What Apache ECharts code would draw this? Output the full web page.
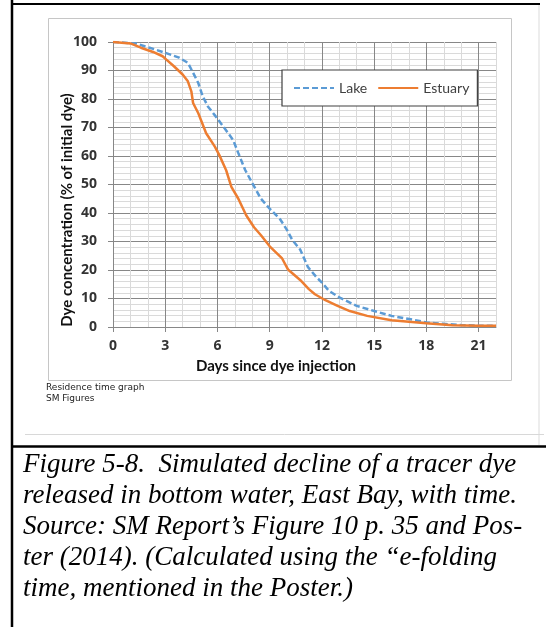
<!DOCTYPE html>
<html>
<head>
<meta charset="utf-8">
<title>Residence time graph</title>
<script src="https://cdn.jsdelivr.net/npm/echarts@6/dist/echarts.min.js"></script>
<style>
  html, body { margin: 0; padding: 0; background: #fff; }
  #chart { width: 546px; height: 627px; }
</style>
</head>
<body>
<div id="chart"></div>
<script>
// x: days since dye injection, y: % of initial dye
const xTicks = [0, 3, 6, 9, 12, 15, 18, 21]
const yTicks = [0, 10, 20, 30, 40, 50, 60, 70, 80, 90, 100]

const lakeDays = [0, 1.3, 2.1, 3.0, 3.8, 4.3, 4.6, 4.9, 5.15, 5.45, 5.9, 6.4, 6.9, 7.2, 7.6, 8.0, 8.5, 9.0, 9.6, 10.0, 10.3, 10.75, 11.2, 11.7, 12.0, 12.4, 13.0, 14.0, 15.0, 16.0, 17.1, 18.0, 19.0, 20.0, 21.0, 22.0]
const lakeValues = [100, 99.5, 98, 96.2, 94.5, 92.7, 89.2, 85.6, 81, 77.4, 73.9, 69.8, 65.6, 61, 55, 50.5, 45, 41.5, 37.8, 34, 30.5, 27.2, 21, 17.4, 15.6, 12.7, 10.4, 7.4, 5.6, 3.9, 2.7, 1.6, 1.1, 0.7, 0.5, 0.4]

const estuaryDays = [0, 1.0, 1.6, 2.3, 2.85, 3.05, 3.5, 4.0, 4.3, 4.5, 4.6, 4.9, 5.35, 5.85, 6.1, 6.5, 6.8, 7.2, 7.65, 8.1, 8.5, 9.0, 9.7, 10.05, 10.75, 11.25, 11.6, 12.2, 12.9, 13.6, 14.6, 16.0, 18.0, 19.5, 21.0, 22.0]
const estuaryValues = [100, 99.5, 98, 96.5, 95, 93.9, 91.5, 88.6, 86.2, 82.7, 78.6, 75, 68, 63.3, 60.4, 55, 49.2, 45, 39.2, 35, 32.2, 28.3, 24.2, 20.2, 16.5, 13.3, 11.5, 9.4, 7.4, 5.6, 3.9, 2.4, 1.3, 0.6, 0.4, 0.4]

const captionLines = [
  'Figure 5-8.  Simulated decline of a tracer dye',
  'released in bottom water, East Bay, with time.',
  'Source: SM Report\u2019s Figure 10 p. 35 and Pos-',
  'ter (2014). (Calculated using the \u201ce-folding',
  'time, mentioned in the Poster.)'
]

const zip = (xs, ys) => xs.map((x, i) => [x, ys[i]])

const majorGrid = '#878787'
const minorGrid = '#dadada'
const labelColor = '#333'
const font = 'Lato, "Open Sans", sans-serif'
const tickFont = '"Open Sans", Lato, sans-serif'

let myChart = echarts.init(document.getElementById('chart'), null, { renderer: 'canvas' })

// page furniture: borders, chart frame, titles, caption
let graphics = [
  { type: 'rect', shape: { x: 48.5, y: 18.5, width: 463, height: 362 }, style: { fill: 'none', stroke: '#c6c6c6', lineWidth: 1 }, z: -1 },
  { type: 'line', shape: { x1: 12, y1: 0, x2: 12, y2: 627 }, style: { stroke: '#000', lineWidth: 2.5 } },
  { type: 'line', shape: { x1: 11, y1: 4, x2: 540, y2: 4 }, style: { stroke: '#000', lineWidth: 2 } },
  { type: 'line', shape: { x1: 539, y1: 5, x2: 539, y2: 445 }, style: { stroke: '#ededed', lineWidth: 2 } },
  { type: 'line', shape: { x1: 25, y1: 434.5, x2: 544, y2: 434.5 }, style: { stroke: '#d8d8d8', lineWidth: 1 } },
  { type: 'line', shape: { x1: 11, y1: 446.5, x2: 546, y2: 446.5 }, style: { stroke: '#000', lineWidth: 2.5 } },
  {
    type: 'text', x: 67, y: 210, rotation: Math.PI / 2,
    style: { text: 'Dye concentration (% of initial dye)', fill: '#111', font: 'bold 15px ' + font, align: 'center', verticalAlign: 'middle' }
  },
  {
    type: 'text', x: 276, y: 366,
    style: { text: 'Days since dye injection', fill: '#111', font: 'bold 15px ' + font, align: 'center', verticalAlign: 'middle' }
  },
  { type: 'text', x: 46, y: 388, style: { text: 'Residence time graph', fill: '#222', font: '9px "DejaVu Sans", sans-serif', verticalAlign: 'middle' } },
  { type: 'text', x: 46, y: 399, style: { text: 'SM Figures', fill: '#222', font: '9px "DejaVu Sans", sans-serif', verticalAlign: 'middle' } }
]
captionLines.forEach((line, i) => {
  graphics.push({
    type: 'text', x: 23, y: 465 + i * 31,
    style: { text: line, fill: '#000', font: 'italic 27px "Liberation Serif", serif', verticalAlign: 'middle' }
  })
})

var option = {
  animation: false,
  backgroundColor: '#fff',
  grid: { left: 113, top: 42, width: 383, height: 285, outerBoundsMode: 'none' },
  legend: {
    left: 282, top: 70,
    padding: [11, 8, 11, 11],
    itemGap: 10, itemWidth: 40, itemHeight: 14,
    backgroundColor: '#fff', borderColor: '#404040', borderWidth: 1.2, borderRadius: 0,
    itemStyle: { opacity: 0 },
    textStyle: { color: '#404040', fontSize: 14, fontFamily: font },
    data: ['Lake', 'Estuary']
  },
  xAxis: [{
    // labelled axis, major ticks every 3 days
    type: 'value', min: 0, max: 22, interval: 3,
    axisLine: { lineStyle: { color: majorGrid, width: 1 } },
    axisTick: { show: true, length: 5, customValues: xTicks, lineStyle: { color: majorGrid } },
    axisLabel: { customValues: xTicks, margin: 12, color: labelColor, fontSize: 14, fontWeight: 'bold', fontFamily: tickFont },
    splitLine: { show: false }
  }, {
    // grid-only axis: one line per day, darker every 3rd
    type: 'value', min: 0, max: 22, interval: 1, position: 'bottom',
    axisLine: { show: false }, axisTick: { show: false }, axisLabel: { show: false },
    splitLine: { show: true, lineStyle: { color: [majorGrid, minorGrid, minorGrid], width: 1 } }
  }],
  yAxis: {
    type: 'value', min: 0, max: 100, interval: 10,
    axisLine: { show: true, lineStyle: { color: majorGrid } },
    axisTick: { show: true, length: 5, customValues: yTicks, lineStyle: { color: majorGrid } },
    axisLabel: { customValues: yTicks, margin: 16, color: labelColor, fontSize: 14, fontWeight: 'bold', fontFamily: tickFont },
    splitLine: { show: true, lineStyle: { color: majorGrid, width: 1 } },
    minorTick: { show: false, splitNumber: 5 },
    minorSplitLine: { show: true, lineStyle: { color: minorGrid, width: 1 } }
  },
  series: [{
    name: 'Lake',
    type: 'line',
    xAxisIndex: 0,
    showSymbol: false, symbol: 'none',
    lineStyle: { color: '#5b9bd5', width: 2.5, type: [6, 3] },
    itemStyle: { color: '#5b9bd5' },
    data: zip(lakeDays, lakeValues)
  }, {
    name: 'Estuary',
    type: 'line',
    xAxisIndex: 0,
    showSymbol: false, symbol: 'none',
    lineStyle: { color: '#ed7d31', width: 2.5 },
    itemStyle: { color: '#ed7d31' },
    data: zip(estuaryDays, estuaryValues)
  }],
  graphic: graphics
}
myChart.setOption(option)
</script>
</body>
</html>
